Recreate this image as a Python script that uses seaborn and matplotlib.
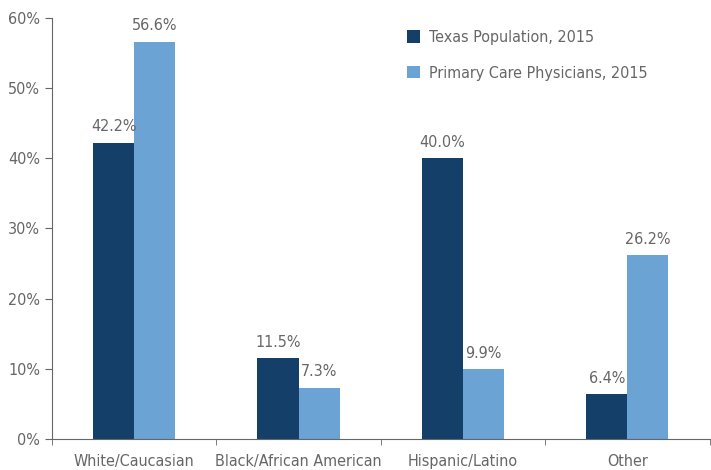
import pandas as pd
import matplotlib.pyplot as plt
import seaborn as sns
from matplotlib.ticker import FixedLocator, FuncFormatter

categories = ['White/Caucasian', 'Black/African American', 'Hispanic/Latino', 'Other']
texas_pop = [42.2, 11.5, 40.0, 6.4]
physicians = [56.6, 7.3, 9.9, 26.2]
series = ['Texas Population, 2015', 'Primary Care Physicians, 2015']

df = pd.DataFrame({
    'category': categories * 2,
    'value': texas_pop + physicians,
    'series': [series[0]] * 4 + [series[1]] * 4,
})

sns.set_style('white')
plt.rcParams['font.family'] = ['DejaVu Sans']
plt.rcParams['font.stretch'] = 'condensed'
gray = '#666666'

fig = plt.figure(figsize=(7.11, 4.70), dpi=100)
ax = fig.add_axes([0.073, 0.066, 0.925, 0.896])

sns.barplot(data=df, x='category', y='value', hue='series',
            palette=['#143f69', '#6aa3d4'], width=0.5, ax=ax,
            saturation=1, edgecolor='none')

for c in ax.containers:
    ax.bar_label(c, labels=['{:.1f}%'.format(v) for v in c.datavalues],
                 padding=6, color=gray, fontsize=11.5)

ax.set_xlim(-0.5, 3.5)
ax.set_ylim(0, 60)
ax.set_yticks(range(0, 61, 10))
ax.yaxis.set_major_formatter(FuncFormatter(lambda v, p: '{:.0f}%'.format(v)))
ax.xaxis.set_minor_locator(FixedLocator([-0.5, 0.5, 1.5, 2.5, 3.5]))
ax.tick_params(axis='x', which='major', length=0, pad=11, labelsize=11.5, labelcolor=gray)
ax.tick_params(axis='x', which='minor', length=4, direction='out', color=gray, bottom=True)
ax.tick_params(axis='y', length=5, direction='out', color=gray, left=True, labelsize=11.5, labelcolor=gray)

ax.set_xlabel('')
ax.set_ylabel('')
sns.despine(ax=ax)
ax.spines['left'].set_color(gray)
ax.spines['bottom'].set_color(gray)

leg = ax.legend(loc='upper left', bbox_to_anchor=(0.518, 1.005), frameon=False,
                handlelength=0.8, handleheight=0.8, labelspacing=1.3,
                handletextpad=0.6, fontsize=11.5)
for t in leg.get_texts():
    t.set_color(gray)

fig.savefig('out.png', dpi=100)
